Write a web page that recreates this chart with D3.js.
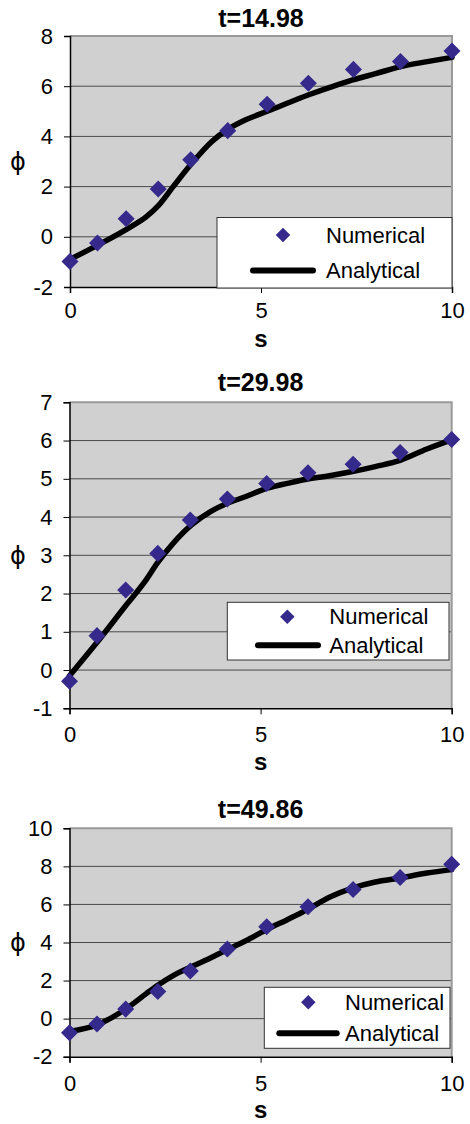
<!DOCTYPE html>
<html>
<head>
<meta charset="utf-8">
<script src="https://cdn.jsdelivr.net/npm/d3@7"></script>
<style>
  body { margin: 0; background: #fff; }
  text { font-family: "Liberation Sans", Arial, sans-serif; }
</style>
</head>
<body>
<div id="chart"></div>
<script>
// panel titles and axis ticks
const titles = ["t=14.98", "t=29.98", "t=49.86"];
const xTicks = [0, 5, 10];
const yTicks1 = [-2, 0, 2, 4, 6, 8];
const yTicks2 = [-1, 0, 1, 2, 3, 4, 5, 6, 7];
const yTicks3 = [-2, 0, 2, 4, 6, 8, 10];

// numerical solution (diamonds), same s grid for all three times
const sNum = [0, 0.72, 1.47, 2.31, 3.16, 4.13, 5.16, 6.24, 7.42, 8.65, 10];
const numerical1 = [-0.98, -0.25, 0.72, 1.90, 3.07, 4.23, 5.28, 6.12, 6.67, 6.98, 7.40];
const numerical2 = [-0.29, 0.90, 2.09, 3.05, 3.92, 4.47, 4.88, 5.16, 5.38, 5.69, 6.03];
const numerical3 = [-0.74, -0.28, 0.50, 1.42, 2.50, 3.66, 4.83, 5.88, 6.79, 7.41, 8.11];

// analytical solution (solid line)
const sAna = [0, 0.7, 1.5, 2.0, 2.3, 2.7, 3.2, 3.7, 4.1, 4.6, 5.2, 5.7, 6.2, 6.8, 7.4, 8.0, 8.65, 9.35, 10];
const analytical1 = [-0.90, -0.35, 0.32, 0.80, 1.22, 2.00, 2.95, 3.78, 4.25, 4.66, 5.02, 5.33, 5.63, 5.95, 6.25, 6.50, 6.78, 6.98, 7.15];
const analytical2 = [-0.15, 0.70, 1.72, 2.35, 2.80, 3.30, 3.80, 4.15, 4.35, 4.53, 4.76, 4.88, 4.99, 5.08, 5.19, 5.32, 5.48, 5.78, 6.02];
const analytical3 = [-0.67, -0.34, 0.55, 1.30, 1.74, 2.25, 2.74, 3.20, 3.60, 4.08, 4.72, 5.20, 5.70, 6.38, 6.86, 7.18, 7.39, 7.65, 7.83];

const seriesNames = ["Numerical", "Analytical"];

// layout of the three stacked panels
const panels = [
  { title: titles[0], yTicks: yTicks1, num: numerical1, ana: analytical1,
    left: 70, right: 452, top: 36, bottom: 287, titleY: 26.7, tickY: 318.3, sY: 346.7,
    legend: { x: 217, y: 217.5, w: 235, h: 70.5, markX: 283, row1: 235, row2: 270.5, lineX1: 253, lineX2: 313, textX: 326 } },
  { title: titles[1], yTicks: yTicks2, num: numerical2, ana: analytical2,
    left: 69.5, right: 451.7, top: 402.3, bottom: 708.3, titleY: 390.7, tickY: 741.7, sY: 770,
    legend: { x: 227.3, y: 602.3, w: 221.7, h: 57.7, markX: 287.3, row1: 616.7, row2: 645.3, lineX1: 258, lineX2: 318, textX: 329.3 } },
  { title: titles[2], yTicks: yTicks3, num: numerical3, ana: analytical3,
    left: 69.5, right: 451.7, top: 828.3, bottom: 1056.7, titleY: 818.3, tickY: 1090.7, sY: 1118.3,
    legend: { x: 264.3, y: 987.3, w: 185.7, h: 61, markX: 308.3, row1: 1002.3, row2: 1033.3, lineX1: 279.3, lineX2: 336.7, textX: 345 } }
];

const markerColor = '#36298c';
const plotFill = '#d0d0d0';
const gridColor = '#4a4a4a';

const svg = d3.select('#chart').append('svg')
  .attr('width', 470)
  .attr('height', 1124);

const diamond = d3.symbol().type(d3.symbolSquare).size(145);
const legendDiamond = d3.symbol().type(d3.symbolSquare).size(105);

panels.forEach(p => {
  const g = svg.append('g');
  const yMin = d3.min(p.yTicks), yMax = d3.max(p.yTicks);

  const x = d3.scaleLinear().domain([0, 10]).range([p.left, p.right]);
  const y = d3.scaleLinear().domain([yMin, yMax]).range([p.bottom, p.top]);

  // plot area
  g.append('rect')
    .attr('x', x(0)).attr('y', y(yMax))
    .attr('width', x(10) - x(0)).attr('height', y(yMin) - y(yMax))
    .attr('fill', plotFill);

  // gridlines
  g.selectAll('.grid')
    .data(p.yTicks.filter(d => d !== yMin && d !== yMax))
    .enter().append('line')
      .attr('x1', x(0)).attr('x2', x(10))
      .attr('y1', d => y(d)).attr('y2', d => y(d))
      .attr('stroke', gridColor).attr('stroke-width', 1);

  // gray frame on top and right
  g.append('path')
    .attr('d', `M${x(0)},${y(yMax)}H${x(10)}V${y(yMin)}`)
    .attr('fill', 'none').attr('stroke', '#9a9a9a').attr('stroke-width', 2);

  // y axis
  const yAxis = g.append('g')
    .attr('transform', `translate(${x(0)},0)`)
    .call(d3.axisLeft(y).tickValues(p.yTicks).tickSize(6).tickPadding(11).tickFormat(d => String(d)));
  yAxis.select('.domain').attr('stroke', '#000').attr('stroke-width', 1.5);
  yAxis.selectAll('.tick line').attr('stroke', '#000');
  yAxis.selectAll('text').attr('font-size', 22).attr('fill', '#000')
    .attr('font-family', '"Liberation Sans", Arial, sans-serif');

  // x axis
  const xAxis = g.append('g')
    .attr('transform', `translate(0,${y(yMin)})`)
    .call(d3.axisBottom(x).tickValues(xTicks).tickSize(6).tickFormat(d => String(d)));
  xAxis.select('.domain').attr('stroke', '#000').attr('stroke-width', 1.5);
  xAxis.selectAll('.tick line').attr('stroke', '#000');
  xAxis.selectAll('text')
    .attr('font-size', 22).attr('fill', '#000')
    .attr('font-family', '"Liberation Sans", Arial, sans-serif')
    .attr('dy', null)
    .attr('y', p.tickY - y(yMin));

  // analytical line
  const line = d3.line()
    .x((d, i) => x(sAna[i]))
    .y(d => y(d))
    .curve(d3.curveMonotoneX);

  g.append('path')
    .datum(p.ana)
    .attr('d', line)
    .attr('fill', 'none')
    .attr('stroke', '#000')
    .attr('stroke-width', 5.5)
    .attr('stroke-linejoin', 'round')
    .attr('stroke-linecap', 'round');

  // numerical diamonds
  g.selectAll('.pt')
    .data(p.num)
    .enter().append('path')
      .attr('d', diamond)
      .attr('transform', (d, i) => `translate(${x(sNum[i])},${y(d)}) rotate(45)`)
      .attr('fill', markerColor);

  // title
  g.append('text')
    .attr('x', (p.left + p.right) / 2).attr('y', p.titleY)
    .attr('text-anchor', 'middle')
    .attr('font-size', 25).attr('font-weight', 'bold')
    .text(p.title);

  // axis titles
  g.append('text')
    .attr('x', (p.left + p.right) / 2).attr('y', p.sY)
    .attr('text-anchor', 'middle')
    .attr('font-size', 24).attr('font-weight', 'bold')
    .text('s');

  g.append('text')
    .attr('x', 18).attr('y', (p.top + p.bottom) / 2)
    .attr('text-anchor', 'middle')
    .attr('dy', '0.35em')
    .attr('font-size', 24)
    .style('font-family', '"DejaVu Sans", sans-serif')
    .text('ϕ');

  // legend
  const L = p.legend;
  g.append('rect')
    .attr('x', L.x).attr('y', L.y).attr('width', L.w).attr('height', L.h)
    .attr('fill', '#fff').attr('stroke', '#333').attr('stroke-width', 1);

  g.append('path')
    .attr('d', legendDiamond)
    .attr('transform', `translate(${L.markX},${L.row1}) rotate(45)`)
    .attr('fill', markerColor);

  g.append('line')
    .attr('x1', L.lineX1).attr('x2', L.lineX2)
    .attr('y1', L.row2).attr('y2', L.row2)
    .attr('stroke', '#000').attr('stroke-width', 6)
    .attr('stroke-linecap', 'round');

  g.selectAll('.leg')
    .data(seriesNames)
    .enter().append('text')
      .attr('x', L.textX)
      .attr('y', (d, i) => i === 0 ? L.row1 : L.row2)
      .attr('dy', '0.35em')
      .attr('font-size', 22)
      .text(d => d);
});
</script>
</body>
</html>
